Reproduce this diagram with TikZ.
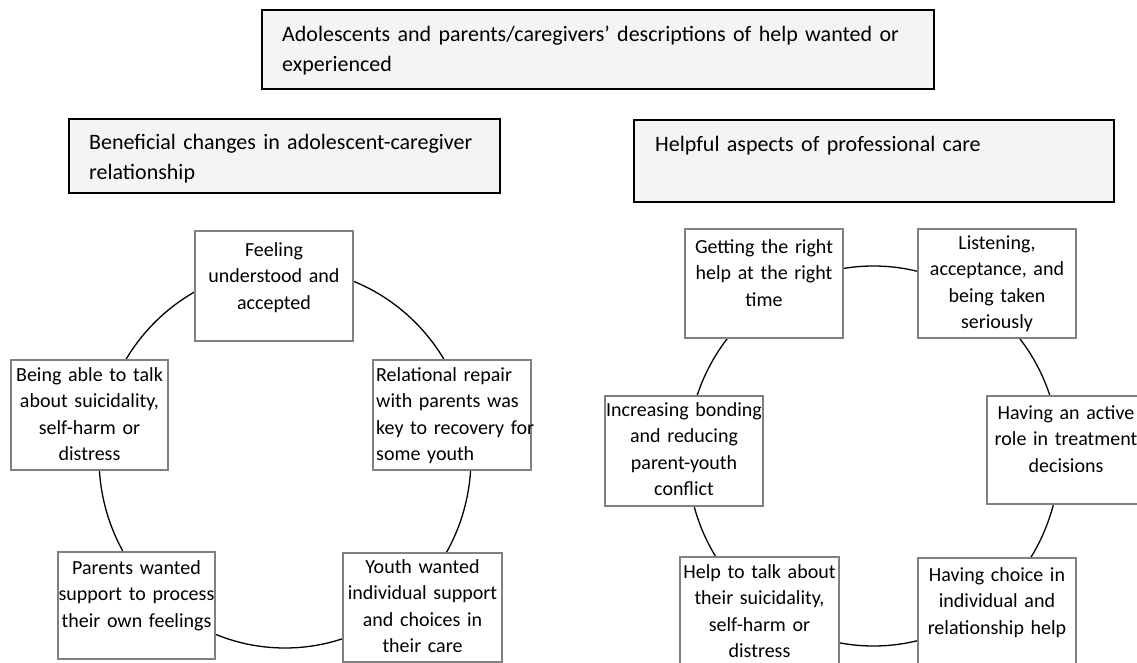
\documentclass[tikz,border=0pt]{standalone}
\usepackage{fontspec}
\setmainfont{Carlito}
\definecolor{hdrfill}{RGB}{243,245,244}
\definecolor{boxgray}{RGB}{128,128,128}
\begin{document}
\begin{tikzpicture}[x=1pt,y=-1pt,
  hdr/.style={draw=black, line width=1.6pt, fill=hdrfill, inner sep=0pt},
  item/.style={draw=boxgray, line width=1.5pt, fill=white, inner sep=0pt},
  itxt/.style={text width=200pt, align=center, anchor=base, inner sep=0pt, font=\fontsize{20}{26.5}\selectfont},
  ltxt/.style={text width=160pt, align=left, anchor=base west, inner sep=0pt, font=\fontsize{20}{26.5}\selectfont},
  htxt/.style={align=left, anchor=base west, inner sep=0pt, font=\fontsize{22}{30}\selectfont},
  ring/.style={draw=black, line width=1.3pt}]
\clip (0,0) rectangle (1137,663);
\fill[white] (0,0) rectangle (1137,663);

% headers
\node[hdr, minimum width=672pt, minimum height=79pt] (T) at (598,49.5) {};
\node[htxt, text width=645pt] (Tt) at (282,42) {Adolescents and parents/caregivers’ descriptions of help wanted or\\experienced};
\node[hdr, minimum width=431pt, minimum height=74pt] (L) at (284.5,156) {};
\node[htxt, text width=405pt] (Lt) at (89,150) {Beneficial changes in adolescent-caregiver\\relationship};
\node[hdr, minimum width=480pt, minimum height=82pt] (R) at (874,161) {};
\node[htxt, text width=450pt] (Rt) at (655,152) {Helpful aspects of professional care};

% rings
\coordinate (LC) at (285,458);
\coordinate (RC) at (873.5,456);
\draw[ring] (LC) ellipse [x radius=186pt, y radius=190pt];
\draw[ring] (RC) ellipse [x radius=186pt, y radius=190pt];

% left cycle
\node[item, minimum width=158pt, minimum height=110pt] (A) at (274,286) {};
\node[itxt] (At) at (274,256) {Feeling\\understood and\\accepted};
\node[item, minimum width=158pt, minimum height=110pt] (B) at (452,415) {};
\node[ltxt] (Bt) at (376,381) {Relational repair\\with parents was\\key to recovery for\\some youth};
\node[item, minimum width=159pt, minimum height=109pt] (C) at (422.5,607.5) {};
\node[itxt] (Ct) at (422.5,573) {Youth wanted\\individual support\\and choices in\\their care};
\node[item, minimum width=157pt, minimum height=107pt] (D) at (136.5,605.5) {};
\node[itxt] (Dt) at (136.5,574) {Parents wanted\\support to process\\their own feelings};
\node[item, minimum width=157pt, minimum height=110pt] (E) at (89.5,415) {};
\node[itxt] (Et) at (89.5,381) {Being able to talk\\about suicidality,\\self-harm or\\distress};

% right cycle
\node[item, minimum width=158pt, minimum height=109pt] (F) at (764,283.5) {};
\node[itxt] (Ft) at (764,253) {Getting the right\\help at the right\\time};
\node[item, minimum width=158pt, minimum height=109pt] (G) at (997,283.5) {};
\node[itxt] (Gt) at (997,249) {Listening,\\acceptance, and\\being taken\\seriously};
\node[item, minimum width=158pt, minimum height=108pt] (H) at (1066,450) {};
\node[itxt] (Ht) at (1066,419) {Having an active\\role in treatment\\decisions};
\node[item, minimum width=158pt, minimum height=110pt] (I) at (997,613) {};
\node[itxt] (It) at (997,581) {Having choice in\\individual and\\relationship help};
\node[item, minimum width=159pt, minimum height=110pt] (J) at (759.5,612) {};
\node[itxt] (Jt) at (759.5,578) {Help to talk about\\their suicidality,\\self-harm or\\distress};
\node[item, minimum width=158pt, minimum height=110pt] (K) at (684,451) {};
\node[itxt] (Kt) at (684,416) {Increasing bonding\\and reducing\\parent-youth\\conflict};
\end{tikzpicture}
\end{document}
